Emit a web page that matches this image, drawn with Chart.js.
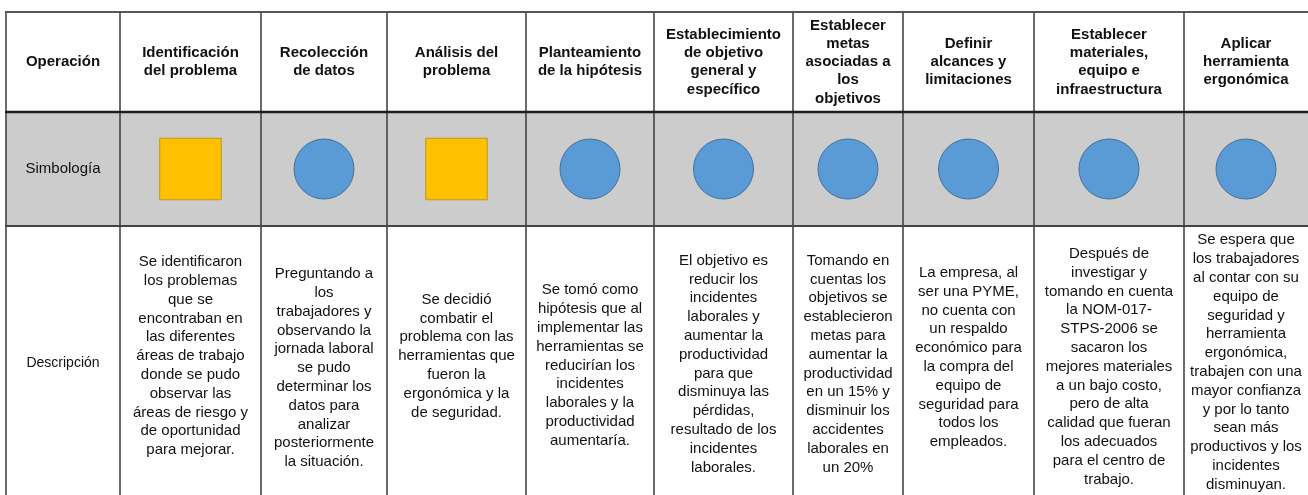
<!DOCTYPE html>
<html>
<head>
<meta charset="utf-8">
<script src="https://cdn.jsdelivr.net/npm/chart.js@4/dist/chart.umd.min.js"></script>
<style>
html,body{margin:0;padding:0;background:#fff;}
#wrap{width:1308px;height:495px;position:relative;}
</style>
</head>
<body>
<div id="wrap"><canvas id="c"></canvas></div>
<script>
// ---------- content (data) ----------
const rowLabels = ['Operación', 'Simbología', 'Descripción'];

const operations = [
  ['Identificación', 'del problema'],
  ['Recolección', 'de datos'],
  ['Análisis del', 'problema'],
  ['Planteamiento', 'de la hipótesis'],
  ['Establecimiento', 'de objetivo', 'general y', 'específico'],
  ['Establecer', 'metas', 'asociadas a', 'los', 'objetivos'],
  ['Definir', 'alcances y', 'limitaciones'],
  ['Establecer', 'materiales,', 'equipo e', 'infraestructura'],
  ['Aplicar', 'herramienta', 'ergonómica']
];

const symbols = ['square', 'circle', 'square', 'circle', 'circle', 'circle', 'circle', 'circle', 'circle'];

const descriptions = [
  ['Se identificaron', 'los problemas', 'que se', 'encontraban en', 'las diferentes', 'áreas de trabajo', 'donde se pudo', 'observar las', 'áreas de riesgo y', 'de oportunidad', 'para mejorar.'],
  ['Preguntando a', 'los', 'trabajadores y', 'observando la', 'jornada laboral', 'se pudo', 'determinar los', 'datos para', 'analizar', 'posteriormente', 'la situación.'],
  ['Se decidió', 'combatir el', 'problema con las', 'herramientas que', 'fueron la', 'ergonómica y la', 'de seguridad.'],
  ['Se tomó como', 'hipótesis que al', 'implementar las', 'herramientas se', 'reducirían los', 'incidentes', 'laborales y la', 'productividad', 'aumentaría.'],
  ['El objetivo es', 'reducir los', 'incidentes', 'laborales y', 'aumentar la', 'productividad', 'para que', 'disminuya las', 'pérdidas,', 'resultado de los', 'incidentes', 'laborales.'],
  ['Tomando en', 'cuentas los', 'objetivos se', 'establecieron', 'metas para', 'aumentar la', 'productividad', 'en un 15% y', 'disminuir los', 'accidentes', 'laborales en', 'un 20%'],
  ['La empresa, al', 'ser una PYME,', 'no cuenta con', 'un respaldo', 'económico para', 'la compra del', 'equipo de', 'seguridad para', 'todos los', 'empleados.'],
  ['Después de', 'investigar y', 'tomando en cuenta', 'la NOM-017-', 'STPS-2006 se', 'sacaron los', 'mejores materiales', 'a un bajo costo,', 'pero de alta', 'calidad que fueran', 'los adecuados', 'para el centro de', 'trabajo.'],
  ['Se espera que', 'los trabajadores', 'al contar con su', 'equipo de', 'seguridad y', 'herramienta', 'ergonómica,', 'trabajen con una', 'mayor confianza', 'y por lo tanto', 'sean más', 'productivos y los', 'incidentes', 'disminuyan.']
];

// ---------- layout (table geometry in scale units) ----------
const colWidths = [114, 141, 126, 139, 128, 139, 110, 131, 150, 124];
const rowHeights = [100, 114, 269];
const descMid = [351, 344, 356, 344, 353.5, 352, 352, 345.5, 354.7, 350.5];

const colEdges = colWidths.reduce((a, w) => { a.push(a[a.length - 1] + w); return a; }, [0]);
const rowEdges = rowHeights.reduce((a, h) => { a.push(a[a.length - 1] + h); return a; }, [0]);
const colMid = i => (colEdges[i] + colEdges[i + 1]) / 2;
const rowMid = j => (rowEdges[j] + rowEdges[j + 1]) / 2;
const totalW = colEdges[colEdges.length - 1];
const totalH = rowEdges[rowEdges.length - 1];

const FONT = '"Liberation Sans", Arial, Helvetica, sans-serif';

const tablePlugin = {
  id: 'tableGrid',
  beforeDatasetsDraw(chart) {
    const { ctx, scales: { x, y } } = chart;
    ctx.save();
    ctx.fillStyle = '#cccccc';
    ctx.fillRect(x.getPixelForValue(0), y.getPixelForValue(rowEdges[1]),
      x.getPixelForValue(totalW) - x.getPixelForValue(0),
      y.getPixelForValue(rowEdges[2]) - y.getPixelForValue(rowEdges[1]));
    ctx.strokeStyle = '#3a3a3a';
    ctx.lineWidth = 1.5;
    for (let i = 0; i < colEdges.length - 1; i++) {
      const px = x.getPixelForValue(colEdges[i]);
      ctx.beginPath();
      ctx.moveTo(px, y.getPixelForValue(0));
      ctx.lineTo(px, y.getPixelForValue(totalH));
      ctx.stroke();
    }
    const hl = [
      { v: rowEdges[0], w: 2, c: '#555555' },
      { v: rowEdges[1], w: 2.5, c: '#1e1e1e' },
      { v: rowEdges[2], w: 2, c: '#444444' }
    ];
    hl.forEach(l => {
      const py = y.getPixelForValue(l.v);
      ctx.strokeStyle = l.c;
      ctx.lineWidth = l.w;
      ctx.beginPath();
      ctx.moveTo(x.getPixelForValue(0) - 1, py);
      ctx.lineTo(x.getPixelForValue(totalW), py);
      ctx.stroke();
    });
    ctx.restore();
  },
  afterDatasetsDraw(chart) {
    const { ctx, scales: { x, y } } = chart;
    ctx.save();
    ctx.textAlign = 'center';
    ctx.textBaseline = 'middle';
    ctx.fillStyle = '#111111';
    const drawLines = (lines, cx, cy, lh) => {
      const start = cy - (lines.length - 1) * lh / 2;
      lines.forEach((t, k) => ctx.fillText(t, cx, start + k * lh));
    };
    ctx.font = 'bold 15px ' + FONT;
    drawLines([rowLabels[0]], x.getPixelForValue(colMid(0)), y.getPixelForValue(rowMid(0)), 18.3);
    operations.forEach((lines, i) => {
      drawLines(lines, x.getPixelForValue(colMid(i + 1)), y.getPixelForValue(rowMid(0)), 18.3);
    });
    ctx.font = '15px ' + FONT;
    drawLines([rowLabels[1]], x.getPixelForValue(colMid(0)), y.getPixelForValue(rowMid(1)), 18.3);
    ctx.font = '14px ' + FONT;
    drawLines([rowLabels[2]], x.getPixelForValue(colMid(0)), y.getPixelForValue(descMid[0]), 18.8);
    ctx.font = '15px ' + FONT;
    descriptions.forEach((lines, i) => {
      drawLines(lines, x.getPixelForValue(colMid(i + 1)), y.getPixelForValue(descMid[i + 1]), 18.8);
    });
    ctx.restore();
  }
};

new Chart(document.getElementById('c'), {
  type: 'scatter',
  data: {
    datasets: [{
      data: symbols.map((s, i) => ({ x: colMid(i + 1), y: rowMid(1) })),
      pointStyle: c => symbols[c.dataIndex] === 'square' ? 'rect' : 'circle',
      radius: c => symbols[c.dataIndex] === 'square' ? 43.5 : 30,
      hoverRadius: c => symbols[c.dataIndex] === 'square' ? 43.5 : 30,
      backgroundColor: c => symbols[c.dataIndex] === 'square' ? '#FFC000' : '#5B9BD5',
      borderColor: c => symbols[c.dataIndex] === 'square' ? '#B8962A' : '#41719C',
      borderWidth: 1,
      clip: false
    }]
  },
  options: {
    responsive: true,
    maintainAspectRatio: false,
    animation: false,
    events: [],
    layout: { autoPadding: false, padding: { left: 6, top: 12, right: 0, bottom: 0 } },
    plugins: { legend: { display: false }, tooltip: { enabled: false } },
    scales: {
      x: { type: 'linear', display: false, min: 0, max: totalW },
      y: { type: 'linear', display: false, min: 0, max: totalH, reverse: true }
    }
  },
  plugins: [tablePlugin]
});
</script>
</body>
</html>
